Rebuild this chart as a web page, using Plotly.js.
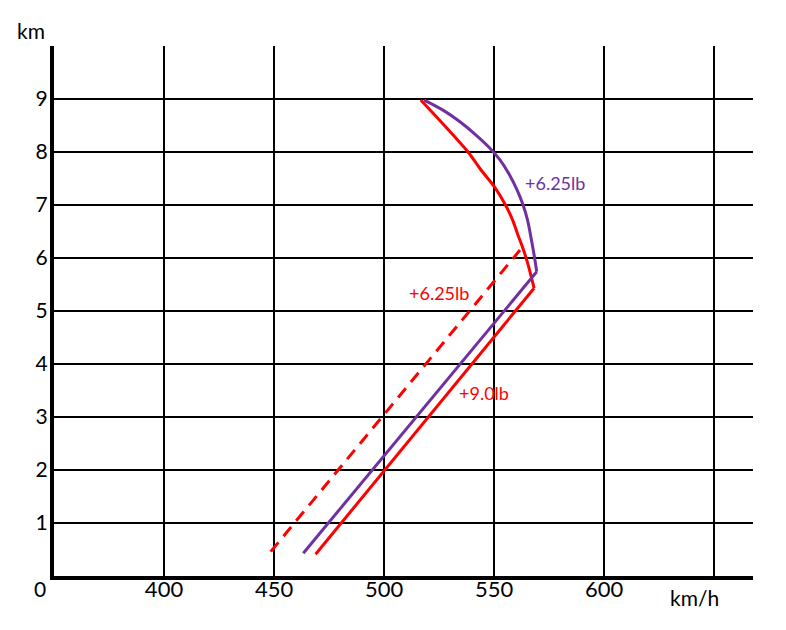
<!DOCTYPE html>
<html>
<head>
<meta charset="utf-8">
<script src="https://cdn.plot.ly/plotly-3.0.1.min.js"></script>
<style>html,body{margin:0;padding:0;background:#fff;}</style>
</head>
<body>
<div id="chart" style="width:786px;height:630px;"></div>
<script>
// Speed (km/h) vs altitude (km); first point = low end, second = corner, rest = curved upper part
var purpleSpeed = [463.3, 569.4, 568.2, 567.0, 565.2, 563.2, 560.5, 557.0, 552.7, 547.7, 541.8, 534.5, 526.8, 518.2];
var purpleAlt   = [0.43, 5.74, 6.06, 6.34, 6.72, 7.00, 7.28, 7.57, 7.85, 8.09, 8.32, 8.57, 8.79, 8.98];

var redSpeed = [468.9, 568.2, 565.5, 563.4, 560.9, 558.4, 555.2, 550.2, 544.1, 538.2, 531.4, 523.9, 516.7];
var redAlt   = [0.41, 5.43, 5.87, 6.15, 6.43, 6.72, 7.00, 7.34, 7.66, 8.00, 8.32, 8.66, 8.98];

var dashSpeed = [448.5, 561.8];
var dashAlt   = [0.46, 6.15];

var xTickVals = [400, 450, 500, 550, 600, 650];
var xTickText = ['400', '450', '500', '550', '600', ''];
var yTickVals = [1, 2, 3, 4, 5, 6, 7, 8, 9];
var yTickText = ['1', '2', '3', '4', '5', '6', '7', '8', '9'];

var labelText  = ['+6.25lb', '+6.25lb', '+9.0lb'];
var labelSpeed = [577.7, 525.0, 545.5];
var labelAlt   = [7.42, 5.34, 3.45];
var labelColor = ['#7030A0', '#FF0000', '#FF0000'];

var FONT = 'Lato, "Open Sans", sans-serif';
var PURPLE = '#7030A0', RED = '#FF0000';

function straight(xs, ys, color) {
  return {x: xs.slice(0, 2), y: ys.slice(0, 2), mode: 'lines', line: {color: color, width: 3}, hoverinfo: 'skip'};
}
function curved(xs, ys, color) {
  return {x: xs.slice(1), y: ys.slice(1), mode: 'lines',
          line: {color: color, width: 3, shape: 'spline', smoothing: 1}, hoverinfo: 'skip'};
}

var traces = [
  {x: dashSpeed, y: dashAlt, mode: 'lines', line: {color: RED, width: 3, dash: '12px,8px'}, hoverinfo: 'skip'},
  straight(redSpeed, redAlt, RED),
  curved(redSpeed, redAlt, RED),
  straight(purpleSpeed, purpleAlt, PURPLE),
  curved(purpleSpeed, purpleAlt, PURPLE)
];

var annotations = labelText.map(function (t, i) {
  return {x: labelSpeed[i], y: labelAlt[i], xref: 'x', yref: 'y', text: t, showarrow: false,
          font: {family: FONT, size: 18, color: labelColor[i]}, xanchor: 'center', yanchor: 'middle'};
});
annotations.push({x: -0.033, y: 1.030, xref: 'paper', yref: 'paper', text: 'km', showarrow: false,
  font: {family: FONT, size: 21, color: '#000'}, xanchor: 'center', yanchor: 'middle'});
annotations.push({x: 0.916, y: -0.041, xref: 'paper', yref: 'paper', text: 'km/h', showarrow: false,
  font: {family: FONT, size: 21, color: '#000'}, xanchor: 'center', yanchor: 'middle'});
annotations.push({x: -0.02, y: -0.0245, xref: 'paper', yref: 'paper', text: '0', showarrow: false,
  font: {family: FONT, size: 21, color: '#000'}, xanchor: 'center', yanchor: 'middle'});

var layout = {
  width: 786, height: 630,
  margin: {l: 54, r: 33, t: 46, b: 54},
  paper_bgcolor: '#fff', plot_bgcolor: '#fff',
  showlegend: false,
  font: {family: FONT, color: '#000'},
  xaxis: {
    range: [350, 667.7], tickmode: 'array', tickvals: xTickVals, ticktext: xTickText,
    showgrid: true, gridcolor: '#000', gridwidth: 2, zeroline: false,
    showline: true, linecolor: '#000', linewidth: 4, ticks: '',
    tickfont: {family: FONT, size: 22, color: '#000'}, ticklabelstandoff: -9, fixedrange: true
  },
  yaxis: {
    range: [0, 10], tickmode: 'array', tickvals: yTickVals, ticktext: yTickText,
    showgrid: true, gridcolor: '#000', gridwidth: 2, zeroline: false,
    showline: true, linecolor: '#000', linewidth: 4, ticks: '',
    tickfont: {family: FONT, size: 21, color: '#000'}, ticklabelstandoff: -2, fixedrange: true
  },
  annotations: annotations
};

Plotly.newPlot('chart', traces, layout, {displayModeBar: false, staticPlot: true});
</script>
</body>
</html>
